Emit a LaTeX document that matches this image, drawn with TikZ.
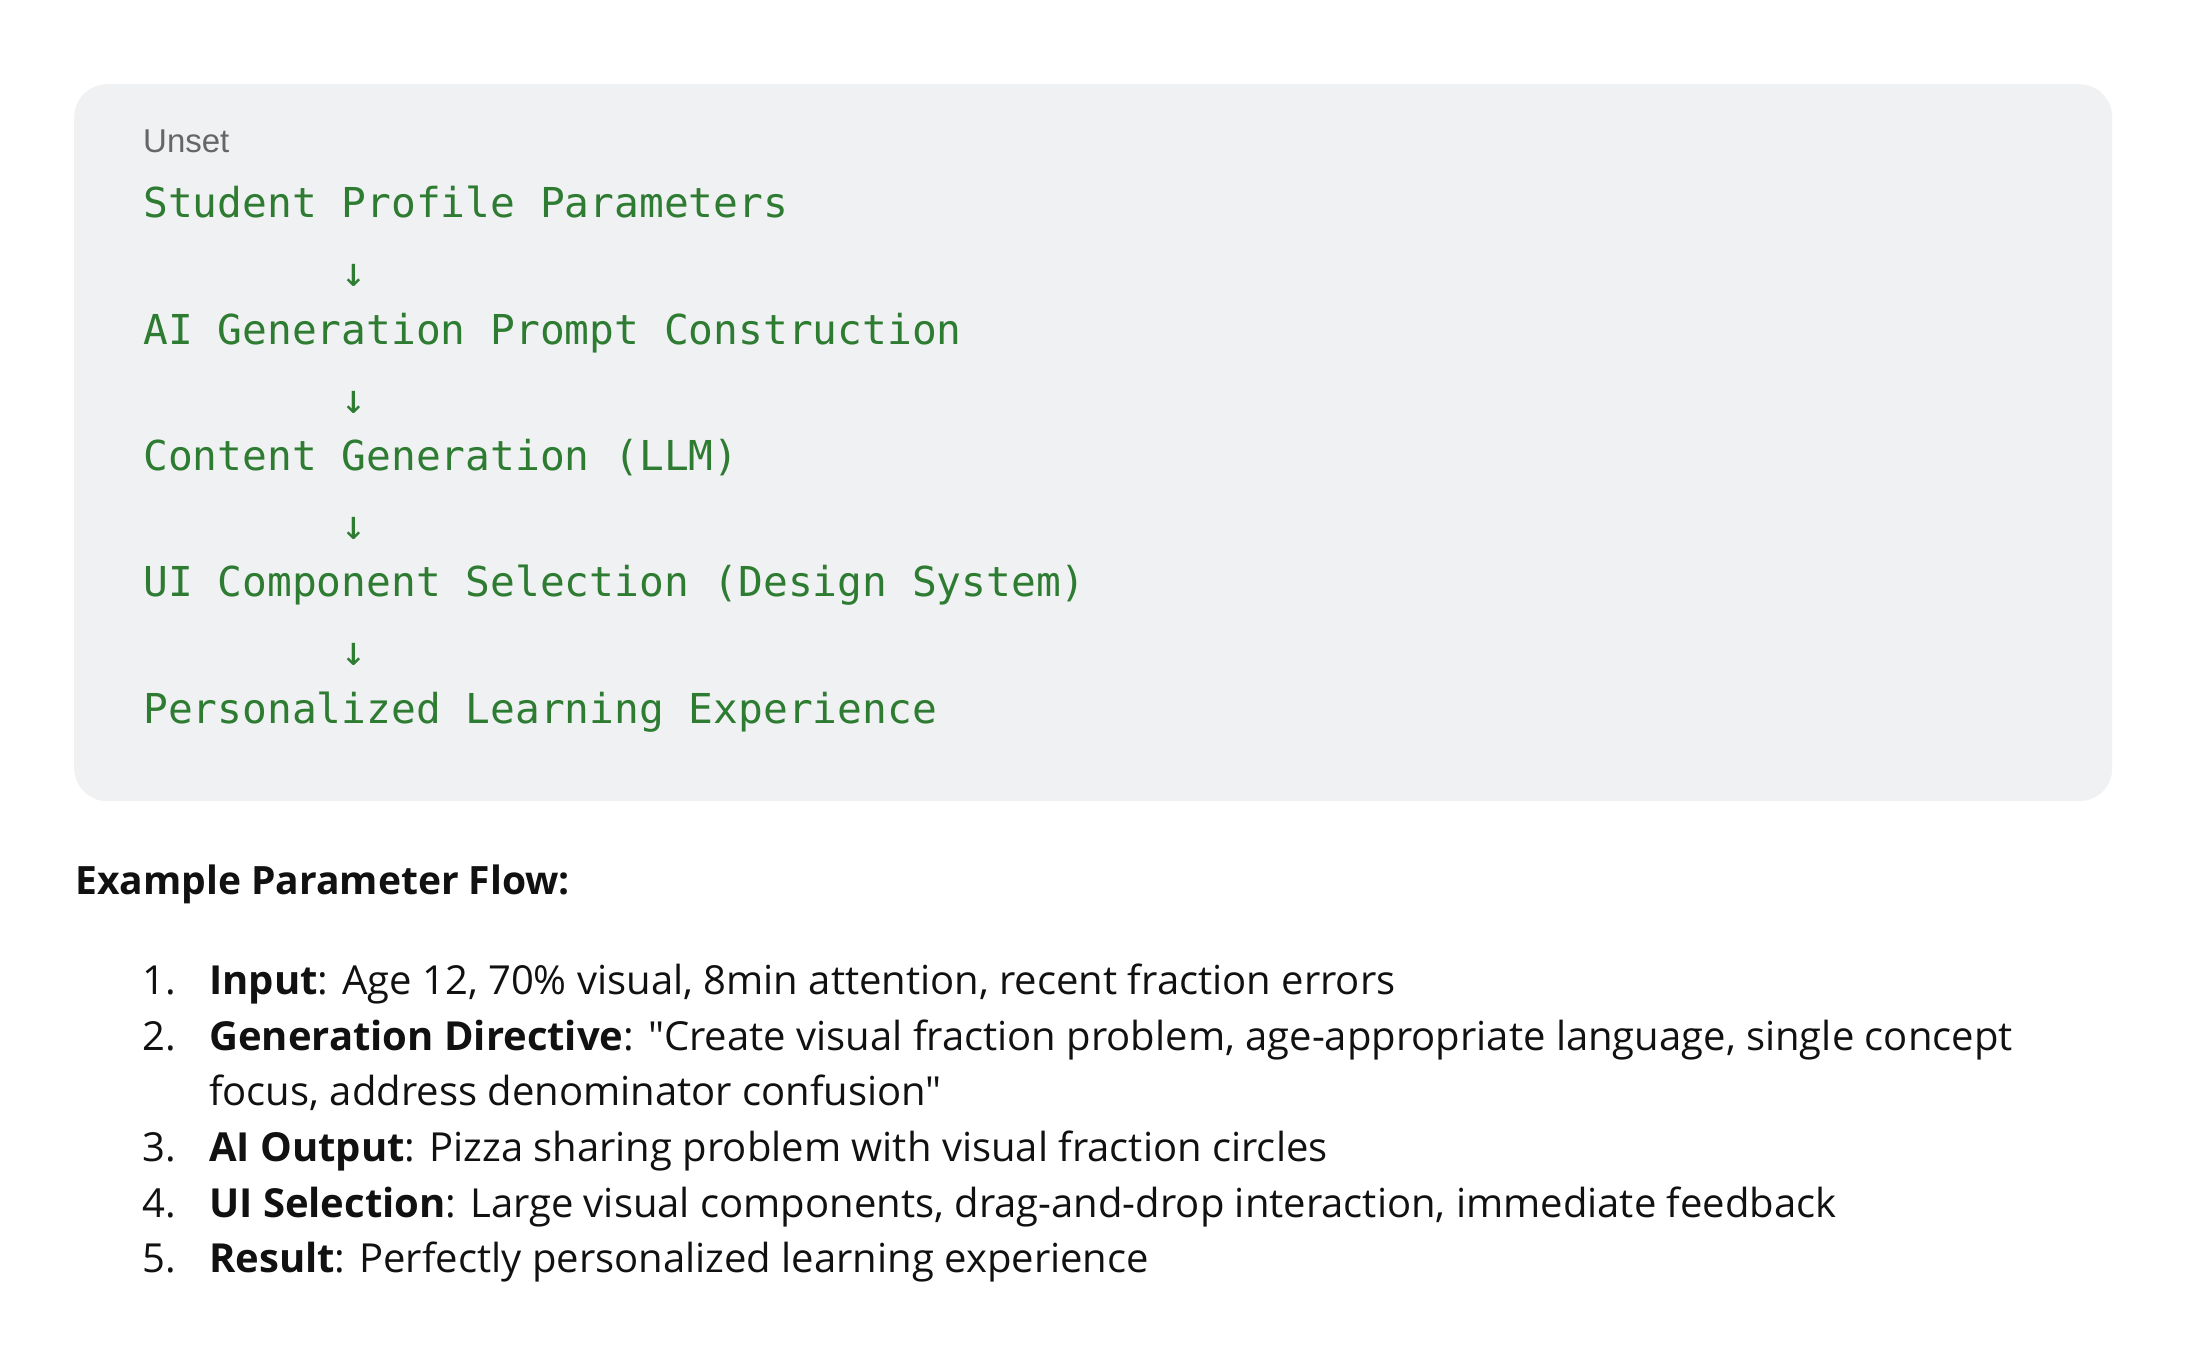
\documentclass[tikz,border=0pt]{standalone}
\usepackage{fontspec}
\setmainfont{Open Sans}[Ligatures={TeXOff,NoCommon}]
\newfontfamily\codefont{DejaVu Sans Mono}
\newfontfamily\labelfont{Liberation Sans}
\definecolor{codebg}{HTML}{F0F1F3}
\definecolor{codegreen}{HTML}{2E7B32}
\definecolor{labelgray}{HTML}{666666}
\definecolor{bodytext}{HTML}{111111}
\tikzset{
  codebox/.style={fill=codebg, rounded corners=33pt, anchor=north west, inner sep=0pt},
  codeline/.style={anchor=base west, inner sep=0pt, text=codegreen, font=\codefont\fontsize{41.2}{50}\selectfont},
  codearrow/.style={anchor=base, inner sep=0pt, text=codegreen, font=\codefont\fontsize{41.2}{50}\selectfont},
  unsetlabel/.style={anchor=base west, inner sep=0pt, text=labelgray, font=\labelfont\fontsize{33}{40}\selectfont},
  heading/.style={anchor=base west, inner sep=0pt, text=bodytext, font=\bfseries\fontsize{39}{46}\selectfont},
  itemnum/.style={anchor=base west, inner sep=0pt, text=bodytext, font=\fontsize{40}{46}\selectfont},
  itemtext/.style={anchor=base west, inner sep=0pt, text=bodytext, font=\fontsize{40}{46}\selectfont},
}
\begin{document}
\begin{tikzpicture}[x=1pt,y=-1pt]
\useasboundingbox (0,0) rectangle (2202,1356);
\node[codebox, minimum width=2038pt, minimum height=717pt] (box) at (74,84) {};
\node[unsetlabel] (unset) at (143,153) {Unset};
\node[codeline] (l1) at (143,218) {Student Profile Parameters};
\node[codearrow] (a1) at (353.8,287) {↓};
\node[codeline] (l2) at (143,344.25) {AI Generation Prompt Construction};
\node[codearrow] (a2) at (353.8,413.25) {↓};
\node[codeline] (l3) at (143,470.5) {Content Generation (LLM)};
\node[codearrow] (a3) at (353.8,539.5) {↓};
\node[codeline] (l4) at (143,596.75) {UI Component Selection (Design System)};
\node[codearrow] (a4) at (353.8,665.75) {↓};
\node[codeline] (l5) at (143,723) {Personalized Learning Experience};

\node[heading] (head) at (75,894) {Example Parameter Flow:};

\node[itemnum] (n1) at (142,994) {1.};
\node[itemtext] (t1) at (209,994) {\textbf{Input}: Age 12, 70\% visual, 8min attention, recent fraction errors};
\node[itemnum] (n2) at (142,1050) {2.};
\node[itemtext] (t2) at (209,1050) {\textbf{Generation Directive}: "Create visual fraction problem, age-appropriate language, single concept};
\node[itemtext] (t2b) at (209,1105) {focus, address denominator confusion"};
\node[itemnum] (n3) at (142,1161) {3.};
\node[itemtext] (t3) at (209,1161) {\textbf{AI Output}: Pizza sharing problem with visual fraction circles};
\node[itemnum] (n4) at (142,1217) {4.};
\node[itemtext] (t4) at (209,1217) {\textbf{UI Selection}: Large visual components, drag-and-drop interaction, immediate feedback};
\node[itemnum] (n5) at (142,1272) {5.};
\node[itemtext] (t5) at (209,1272) {\textbf{Result}: Perfectly personalized learning experience};
\end{tikzpicture}
\end{document}
